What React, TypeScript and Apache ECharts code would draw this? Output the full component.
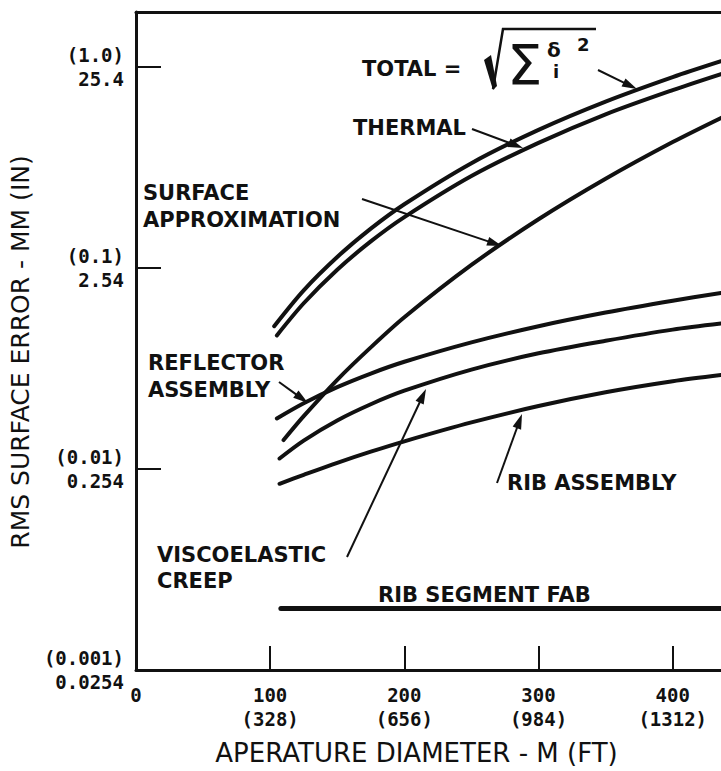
import React, { useEffect, useRef } from "react";
import * as echarts from "echarts";

// ---- axis ticks ----
const xTickValues = [0, 100, 200, 300, 400];
const xTickMetres = ["0", "100", "200", "300", "400"];
const xTickFeet = ["", "(328)", "(656)", "(984)", "(1312)"];
const yTickValues = [0.0254, 0.254, 2.54, 25.4];
const yTickMm = ["0.0254", "0.254", "2.54", "25.4"];
const yTickInches = ["(0.001)", "(0.01)", "(0.1)", "(1.0)"];

// ---- series (aperture diameter in m, rms error in mm) ----
const totalX = [103, 125, 150, 175, 200, 250, 300, 350, 400, 436];
const totalY = [1.3, 1.96, 2.87, 3.97, 5.25, 8.4, 12.3, 17.0, 22.5, 27.0];
const thermalX = [105, 125, 150, 175, 200, 250, 300, 350, 400, 436];
const thermalY = [1.17, 1.69, 2.48, 3.43, 4.53, 7.25, 10.6, 14.7, 19.4, 23.3];
const surfaceX = [110, 125, 150, 175, 200, 250, 300, 350, 400, 436];
const surfaceY = [0.353, 0.464, 0.704, 1.02, 1.44, 2.62, 4.42, 7.03, 10.7, 14.1];
const reflectorX = [105, 125, 150, 175, 200, 250, 300, 350, 400, 436];
const reflectorY = [0.452, 0.538, 0.647, 0.756, 0.865, 1.08, 1.3, 1.52, 1.74, 1.9];
const viscoX = [107, 125, 150, 175, 200, 250, 300, 350, 400, 436];
const viscoY = [0.286, 0.351, 0.442, 0.532, 0.621, 0.791, 0.953, 1.1, 1.25, 1.34];
const ribX = [107, 125, 150, 175, 200, 250, 300, 350, 400, 436];
const ribY = [0.214, 0.237, 0.272, 0.309, 0.348, 0.432, 0.521, 0.61, 0.692, 0.743];
const ribFabX = [108, 436];
const ribFabY = [0.0513, 0.0513];

const INK = "#111";
const LABEL_FONT = '"DejaVu Sans"';

function pairs(xs: number[], ys: number[]) {
  return xs.map((x, i) => [x, ys[i]]);
}

function arrow(x1: number, y1: number, x2: number, y2: number) {
  const dx = x2 - x1;
  const dy = y2 - y1;
  const L = Math.hypot(dx, dy);
  const ux = dx / L;
  const uy = dy / L;
  const hl = 15;
  const hw = 4.5;
  const bx = x2 - ux * hl;
  const by = y2 - uy * hl;
  return [
    {
      type: "line",
      z: 100,
      shape: { x1, y1, x2: bx + ux * 2, y2: by + uy * 2 },
      style: { stroke: INK, lineWidth: 2 },
    },
    {
      type: "polygon",
      z: 100,
      shape: {
        points: [
          [x2, y2],
          [bx - uy * hw, by + ux * hw],
          [bx + uy * hw, by - ux * hw],
        ],
      },
      style: { fill: INK },
    },
  ];
}

function label(text: string, x: number, y: number, size = 21, weight = "bold") {
  return {
    type: "text",
    z: 100,
    x,
    y,
    style: {
      text,
      fill: INK,
      font: `${weight} ${size}px ${LABEL_FONT}`,
      align: "left",
      verticalAlign: "middle",
    },
  };
}

export default function App() {
  const ref = useRef<HTMLDivElement>(null);
  useEffect(() => {
    if (!ref.current) return;
    const chart = echarts.init(ref.current, undefined, { renderer: "svg" });
    const lineSeries = (name: string, xs: number[], ys: number[], width = 4, smooth: any = 0.3) => ({
      name,
      type: "line",
      data: pairs(xs, ys),
      showSymbol: false,
      symbol: "none",
      smooth,
      lineStyle: { color: INK, width, cap: "round" },
      xAxisIndex: 0,
      yAxisIndex: 0,
    });
    chart.setOption({
      animation: false,
      backgroundColor: "#fff",
      grid: { left: 135, right: 0, top: 12, bottom: 95 },
      xAxis: [
        {
          type: "value",
          min: 0,
          max: 436,
          name: "APERATURE DIAMETER - M (FT)",
          nameLocation: "middle",
          nameGap: 70,
          nameTextStyle: {
            fontFamily: LABEL_FONT,
            fontSize: 26,
            color: INK,
            padding: [0, 24, 0, 0],
          },
          axisLine: { show: true, lineStyle: { color: INK, width: 3 } },
          axisTick: {
            show: true,
            inside: true,
            length: 24,
            lineStyle: { color: INK, width: 2 },
            customValues: [100, 200, 300, 400],
          },
          axisLabel: {
            customValues: xTickValues,
            margin: 13,
            fontFamily: '"DejaVu Sans Mono"',
            fontWeight: "bold",
            fontSize: 19,
            lineHeight: 24,
            color: INK,
            formatter: (v: number) => {
              const i = xTickValues.indexOf(Math.round(v));
              if (i < 0) return "";
              return xTickFeet[i] ? `${xTickMetres[i]}\n${xTickFeet[i]}` : xTickMetres[i];
            },
          },
          splitLine: { show: false },
        },
        {
          type: "value",
          min: 0,
          max: 436,
          position: "top",
          axisLine: { show: true, lineStyle: { color: INK, width: 3 } },
          axisTick: { show: false },
          axisLabel: { show: false },
          splitLine: { show: false },
        },
      ],
      yAxis: {
        type: "log",
        logBase: 10,
        min: 0.0254,
        max: 47.4,
        name: "RMS SURFACE ERROR - MM (IN)",
        nameLocation: "middle",
        nameGap: 96,
        nameTextStyle: {
          fontFamily: LABEL_FONT,
          fontSize: 25,
          color: INK,
          padding: [0, 22, 0, 0],
        },
        axisLine: { show: true, lineStyle: { color: INK, width: 3 } },
        axisTick: {
          show: true,
          inside: true,
          length: 25,
          lineStyle: { color: INK, width: 2 },
          customValues: yTickValues,
        },
        minorTick: { show: false },
        axisLabel: {
          customValues: yTickValues,
          margin: 12,
          align: "right",
          fontFamily: '"DejaVu Sans Mono"',
          fontWeight: "bold",
          fontSize: 19,
          lineHeight: 24,
          color: INK,
          formatter: (v: number) => {
            const i = yTickValues.findIndex((t) => Math.abs(t - v) / t < 1e-3);
            return i >= 0 ? `${yTickInches[i]}\n${yTickMm[i]}` : "";
          },
        },
        splitLine: { show: false },
      },
      series: [
        lineSeries("TOTAL", totalX, totalY),
        lineSeries("THERMAL", thermalX, thermalY),
        lineSeries("SURFACE APPROXIMATION", surfaceX, surfaceY),
        lineSeries("REFLECTOR ASSEMBLY", reflectorX, reflectorY),
        lineSeries("VISCOELASTIC CREEP", viscoX, viscoY),
        lineSeries("RIB ASSEMBLY", ribX, ribY),
        lineSeries("RIB SEGMENT FAB", ribFabX, ribFabY, 5, false),
      ],
      graphic: [
        label("TOTAL =", 362, 69),
        {
          type: "polygon",
          z: 100,
          shape: { points: [[484, 60], [491, 55], [497, 86], [493, 90]] },
          style: { fill: INK },
        },
        {
          type: "polyline",
          z: 100,
          shape: { points: [[493, 89], [503, 29], [596, 29]] },
          style: { stroke: INK, lineWidth: 2.5, fill: null },
        },
        label("Σ", 507, 64, 56, "normal"),
        label("δ", 547, 50, 20, "bold"),
        label("i", 553, 71, 18, "bold"),
        label("2", 577, 44, 18, "bold"),
        ...arrow(598, 70, 637, 89),
        label("THERMAL", 353, 128),
        ...arrow(472, 129, 523, 148),
        label("SURFACE", 143, 193),
        label("APPROXIMATION", 143, 220),
        ...arrow(362, 199, 502, 246),
        label("REFLECTOR", 148, 363),
        label("ASSEMBLY", 148, 390),
        ...arrow(279, 382, 308, 403),
        label("VISCOELASTIC", 157, 555),
        label("CREEP", 157, 581),
        ...arrow(347, 557, 426, 389),
        label("RIB ASSEMBLY", 507, 483),
        ...arrow(497, 483, 522, 414),
        label("RIB SEGMENT FAB", 378, 595),
      ],
    });
    return () => chart.dispose();
  }, []);
  return (
    <div
      ref={ref}
      style={{ position: "absolute", left: 0, top: 0, width: 721, height: 771, background: "#fff" }}
    />
  );
}
